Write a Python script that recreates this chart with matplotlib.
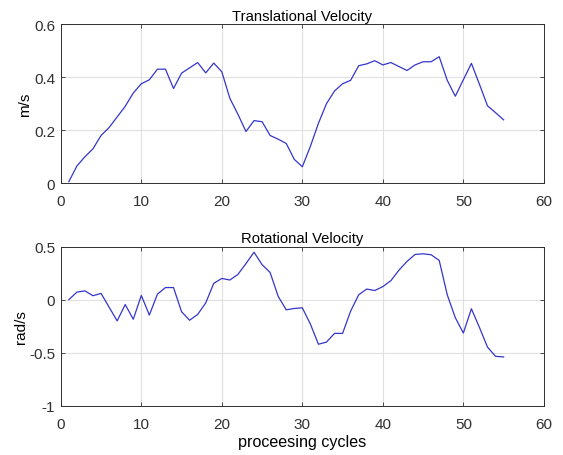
import numpy as np
import matplotlib.pyplot as plt

plt.rcParams['font.family'] = ['Liberation Sans', 'DejaVu Sans']

cycles = list(range(1, 56))

trans_vel = [0.006, 0.065, 0.10, 0.13, 0.18, 0.21, 0.25, 0.29, 0.34, 0.375,
             0.39, 0.43, 0.43, 0.357, 0.415, 0.435, 0.455, 0.416, 0.453, 0.42,
             0.32, 0.26, 0.195, 0.236, 0.232, 0.18, 0.166, 0.15, 0.09, 0.062,
             0.139, 0.226, 0.30, 0.348, 0.375, 0.388, 0.443, 0.45, 0.462, 0.446,
             0.455, 0.44, 0.425, 0.446, 0.458, 0.458, 0.477, 0.388, 0.328, 0.39,
             0.452, 0.373, 0.292, 0.266, 0.239]

rot_vel = [0.0, 0.071, 0.083, 0.037, 0.059, -0.071, -0.20, -0.046, -0.185, 0.04,
           -0.145, 0.052, 0.114, 0.114, -0.114, -0.194, -0.139, -0.031, 0.154, 0.20,
           0.185, 0.238, 0.34, 0.447, 0.33, 0.256, 0.031, -0.096, -0.083, -0.077,
           -0.23, -0.42, -0.40, -0.318, -0.318, -0.108, 0.046, 0.10, 0.086, 0.123,
           0.179, 0.278, 0.36, 0.426, 0.432, 0.423, 0.37, 0.046, -0.17, -0.315,
           -0.086, -0.262, -0.447, -0.534, -0.54]

line_color = '#3535cc'
dark = '#303030'

fig = plt.figure(figsize=(5.63, 4.56), dpi=100)
ax1 = fig.add_axes([0.108, 0.596, 0.858, 0.349])
ax2 = fig.add_axes([0.108, 0.108, 0.858, 0.349])


def style(ax):
    ax.grid(True, color='#e0e0e0', linewidth=0.8)
    ax.set_axisbelow(True)
    ax.tick_params(direction='in', top=True, right=True, labelsize=11,
                   colors=dark, length=3, width=0.6, pad=4)
    ax.tick_params(axis='x', pad=8)
    for s in ax.spines.values():
        s.set_color(dark)
        s.set_linewidth(0.7)


ax1.plot(cycles, trans_vel, color=line_color, linewidth=0.9)
ax1.set_xlim(0, 60)
ax1.set_ylim(0, 0.6)
ax1.set_yticks([0, 0.2, 0.4, 0.6])
ax1.set_yticklabels(['0', '0.2', '0.4', '0.6'])
ax1.set_title('Translational Velocity', fontsize=10.6, color='black', pad=3)
ax1.set_ylabel('m/s', fontsize=11, color='black', labelpad=1.5)
style(ax1)

ax2.plot(cycles, rot_vel, color=line_color, linewidth=0.9)
ax2.set_xlim(0, 60)
ax2.set_ylim(-1, 0.5)
ax2.set_yticks([-1, -0.5, 0, 0.5])
ax2.set_yticklabels(['-1', '-0.5', '0', '0.5'])
ax2.set_title('Rotational Velocity', fontsize=10.6, color='black', pad=3)
ax2.set_ylabel('rad/s', fontsize=11, color='black', labelpad=1)
ax2.set_xlabel('proceesing cycles', fontsize=11.6, color='black', labelpad=2.5)
style(ax2)

fig.savefig('out.png', dpi=100)
